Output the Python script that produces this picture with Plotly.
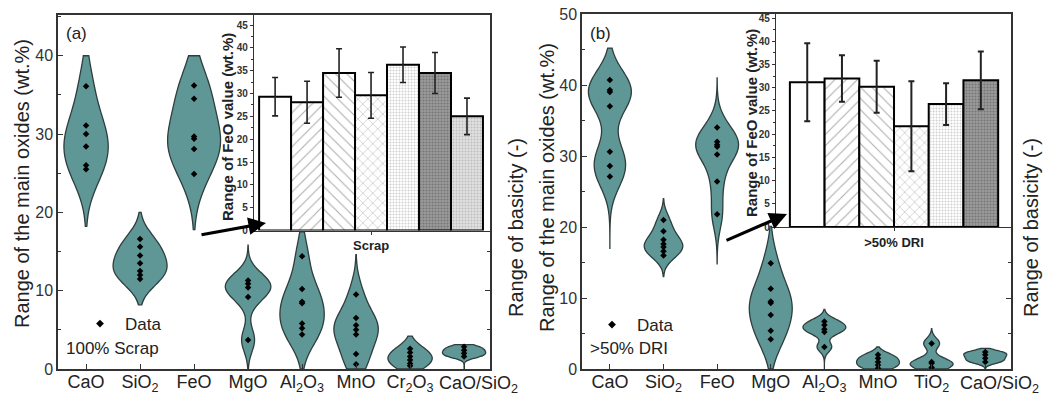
import plotly.graph_objects as go

W, H = 1043, 396

# ---------------- data ----------------
cats_a = ["CaO", "SiO2", "FeO", "MgO", "Al2O3", "MnO", "Cr2O3", "CaO/SiO2"]
ticks_a = ["CaO", "SiO<sub>2</sub>", "FeO", "MgO", "Al<sub>2</sub>O<sub>3</sub>", "MnO",
           "Cr<sub>2</sub>O<sub>3</sub>", "CaO/SiO<sub>2</sub>"]
cao_a = [36.1, 31.1, 30.0, 28.4, 26.0, 25.5]
sio2_a = [16.6, 15.6, 14.5, 13.5, 12.5, 12.0, 11.5]
feo_a = [36.2, 34.5, 29.7, 29.4, 28.1, 24.9]
mgo_a = [11.3, 10.9, 10.4, 9.2, 3.7]
al2o3_a = [14.4, 10.2, 8.6, 8.4, 5.8, 5.2, 4.4]
mno_a = [9.5, 6.5, 5.6, 5.0, 4.4, 1.9, 0.6]
cr2o3_a = [2.6, 2.1, 1.6, 1.15, 0.7, 0.4]
basic_a = [2.85, 2.4, 2.0, 1.6]
# KDE span of each violin (min, max)
span_a = [(18.2, 40), (8.2, 20), (17.8, 40), (0, 15.8), (0, 17.5), (0, 14.6), (0, 4.2), (0, 3.1)]
bw_a = [3.2, 1.7, 3.3, 1.5, 2.4, 2.0, 1.0, 0.33]

cats_b = ["CaO", "SiO2", "FeO", "MgO", "Al2O3", "MnO", "TiO2", "CaO/SiO2"]
ticks_b = ["CaO", "SiO<sub>2</sub>", "FeO", "MgO", "Al<sub>2</sub>O<sub>3</sub>", "MnO",
           "TiO<sub>2</sub>", "CaO/SiO<sub>2</sub>"]
cao_b = [40.7, 39.3, 39.0, 37.0, 30.6, 28.6, 27.1]
sio2_b = [21.0, 19.4, 18.2, 17.6, 17.2, 16.6, 16.0]
feo_b = [34.0, 32.0, 31.6, 31.3, 30.2, 26.4, 21.8]
mgo_b = [14.9, 11.3, 9.5, 9.3, 7.6, 5.4, 4.2]
al2o3_b = [6.7, 6.2, 5.6, 5.2, 3.1]
mno_b = [2.0, 1.5, 1.0, 0.56, 0.1]
tio2_b = [3.6, 1.0, 0.8, 0.2]
basic_b = [2.4, 2.0, 1.5, 1.0]
span_b = [(17, 45.2), (13, 24), (14.8, 41), (0, 20.1), (0, 8.4), (0, 3.1), (0, 5.7), (0, 2.9)]
bw_b = [2.6, 1.2, 2.2, 2.7, 0.7, 0.55, 0.75, 0.35]

# inset bars: FeO value ranges
feo_scrap = [29.3, 28.1, 34.5, 29.6, 36.3, 34.5, 25.0]
feo_scrap_err = [4.2, 4.6, 5.3, 5.0, 3.9, 4.5, 4.0]
feo_dri = [31.2, 32.0, 30.2, 21.7, 26.5, 31.6]
feo_dri_err = [8.4, 5.0, 5.6, 9.7, 4.5, 6.2]

values_a = [cao_a, sio2_a, feo_a, mgo_a, al2o3_a, mno_a, cr2o3_a, basic_a]
values_b = [cao_b, sio2_b, feo_b, mgo_b, al2o3_b, mno_b, tio2_b, basic_b]

# ---------------- style ----------------
FONT = "Arial, Liberation Sans, sans-serif"
FILL = "#5f9696"
EDGE = "#2e3e3e"
AX = "#333333"

def px(x):
    return x / W

def py(y):
    return 1 - y / H

fig = go.Figure()

def add_violins(vals, spans, bws, xa, ya, widths):
    for i, v in enumerate(vals):
        fig.add_trace(go.Violin(
            y=v, x0=i, xaxis=xa, yaxis=ya,
            spanmode="manual", span=list(spans[i]), bandwidth=bws[i],
            width=widths[i], scalemode="width",
            fillcolor=FILL, line=dict(color=EDGE, width=1.3),
            opacity=1, points="all", pointpos=0, jitter=0,
            marker=dict(color="black", symbol="diamond", size=5, line=dict(width=0)),
            box_visible=False, meanline_visible=False, showlegend=False,
            hoverinfo="y"))

add_violins(values_a, span_a, bw_a, "x", "y", [0.82, 1.0, 0.98, 0.84, 0.82, 0.82, 0.82, 0.8])
add_violins(values_b, span_b, bw_b, "x2", "y2", [0.8, 0.72, 0.8, 0.8, 0.8, 0.8, 0.8, 0.8])

# legend entries
fig.add_trace(go.Scatter(x=[None], y=[None], mode="markers", name="Data",
                         marker=dict(color="black", symbol="diamond", size=6),
                         xaxis="x", yaxis="y", legend="legend"))
fig.add_trace(go.Scatter(x=[None], y=[None], mode="markers", name="Data",
                         marker=dict(color="black", symbol="diamond", size=6),
                         xaxis="x2", yaxis="y2", legend="legend2"))

# inset bars
pat_shape = ["", "/", "\\", "x", ".", ".", "."]
pat_fg = ["black", "#5c5c5c", "#5c5c5c", "#5c5c5c", "#a0a0a0", "#505050", "#9a9a9a"]
pat_bg = ["white", "white", "white", "white", "white", "#9c9c9c", "#e0e0e0"]
pat_size = [8, 8, 8, 7, 3, 3, 3]
pat_sol = [0.1, 0.14, 0.14, 0.14, 0.35, 0.4, 0.35]

n_a = len(feo_scrap)
fig.add_trace(go.Bar(
    x=list(range(n_a)), y=feo_scrap, xaxis="x3", yaxis="y3", width=1.0,
    marker=dict(color="white", line=dict(color="black", width=2),
                pattern=dict(shape=pat_shape[:n_a], fgcolor=pat_fg[:n_a], bgcolor=pat_bg[:n_a],
                             size=pat_size[:n_a], solidity=pat_sol[:n_a], fillmode="overlay")),
    error_y=dict(type="data", array=feo_scrap_err, color="#222", thickness=1.6, width=3),
    showlegend=False))
n_b = len(feo_dri)
fig.add_trace(go.Bar(
    x=list(range(n_b)), y=feo_dri, xaxis="x4", yaxis="y4", width=1.0,
    marker=dict(color="white", line=dict(color="black", width=2),
                pattern=dict(shape=pat_shape[:n_b], fgcolor=pat_fg[:n_b], bgcolor=pat_bg[:n_b],
                             size=pat_size[:n_b], solidity=pat_sol[:n_b], fillmode="overlay")),
    error_y=dict(type="data", array=feo_dri_err, color="#222", thickness=2, width=3),
    showlegend=False))

TICKFONT = dict(family=FONT, size=18, color="#222")
main_x = dict(range=[-0.52, 7.48], tickmode="array", tickvals=list(range(8)), tickangle=0,
              automargin=False, ticklabelstandoff=-4,
              ticks="inside", ticklen=5, tickcolor=AX, showline=True, linecolor=AX,
              linewidth=1.5, mirror=True, showgrid=False, zeroline=False,
              tickfont=TICKFONT)
main_y = dict(ticks="inside", ticklen=5, tickcolor=AX, showline=True, linecolor=AX,
              linewidth=1.5, mirror="ticks", showgrid=False, zeroline=False, dtick=10,
              automargin=False,
              minor=dict(dtick=5, ticks="inside", ticklen=3, tickcolor=AX),
              tickfont=dict(family=FONT, size=16, color="#333"))
ins_y = dict(ticks="outside", ticklen=3, tickcolor=AX, showline=True, linecolor=AX,
             linewidth=1.2, showgrid=False, zeroline=False, dtick=5, automargin=False,
             minor=dict(dtick=2.5, ticks="outside", ticklen=2, tickcolor=AX),
             tickfont=dict(family=FONT, size=10, color="#333", weight="bold"))
ins_x = dict(showline=True, linecolor=AX, linewidth=1.2, mirror=True, showgrid=False,
             zeroline=False, ticks="outside", ticklen=3, tickcolor=AX, automargin=False,
             tickangle=0,
             tickfont=dict(family=FONT, size=13, color="#222", weight="bold"))

fig.update_layout(
    width=W, height=H, margin=dict(l=0, r=0, t=0, b=0),
    paper_bgcolor="white", plot_bgcolor="white", violinmode="overlay",
    font=dict(family=FONT),
    # last category label is drawn separately (shifted right, as in the reference)
    xaxis=dict(domain=[px(58), px(490)], ticktext=ticks_a[:7] + [""], anchor="y", **main_x),
    yaxis=dict(domain=[py(369), py(15)], range=[0, 45.2], anchor="x", **main_y),
    xaxis2=dict(domain=[px(582), px(1011)], ticktext=ticks_b[:7] + [""], anchor="y2", **main_x),
    yaxis2=dict(domain=[py(369), py(14)], range=[0, 50], anchor="x2", **main_y),
    xaxis3=dict(domain=[px(254), px(490)], range=[-0.66, 6.72], anchor="y3",
                tickmode="array", tickvals=[(n_a - 1) / 2], ticktext=["Scrap"], **ins_x),
    yaxis3=dict(domain=[py(230.5), py(15)], range=[0, 47.2], anchor="x3", **ins_y),
    xaxis4=dict(domain=[px(776), px(1011)], range=[-0.9, 5.87], anchor="y4",
                tickmode="array", tickvals=[(n_b - 1) / 2], ticktext=[">50% DRI"], **ins_x),
    yaxis4=dict(domain=[py(227), py(14)], range=[0, 45.9], anchor="x4", **ins_y),
    legend=dict(x=px(75), y=py(324), xanchor="left", yanchor="middle", itemwidth=40,
                bgcolor="rgba(0,0,0,0)", font=dict(family=FONT, size=17, color="#222")),
    legend2=dict(x=px(587), y=py(325), xanchor="left", yanchor="middle", itemwidth=40,
                 bgcolor="rgba(0,0,0,0)", font=dict(family=FONT, size=17, color="#222")),
)

ann = []
def text(x, y, s, size=17, angle=0, bold=False, xanchor="center"):
    ann.append(dict(x=px(x), y=py(y), xref="paper", yref="paper", text=s, showarrow=False,
                    textangle=angle, xanchor=xanchor, yanchor="middle",
                    font=dict(family=FONT, size=size, color="#222",
                              weight="bold" if bold else "normal")))

# last category tick labels (tick mark stays at the category, label shifted right)
for xa, lab in [("x", ticks_a[7]), ("x2", ticks_b[7])]:
    ann.append(dict(x=7, y=py(369), xref=xa, yref="paper", text=lab, showarrow=False,
                    xanchor="center", yanchor="top", xshift=14, yshift=-2,
                    font=TICKFONT))

text(22, 184, "Range of the main oxides (wt.%)", 20, -90)
text(547, 188, "Range of the main oxides (wt.%)", 20, -90)
text(516, 228, "Range of basicity (-)", 20, -90)
text(1031, 228, "Range of basicity (-)", 20, -90)
text(227, 127, "Range of FeO value (wt.%)", 15, -90, bold=True)
text(752, 123, "Range of FeO value (wt.%)", 15, -90, bold=True)
text(64, 33, "(a)", 17, xanchor="left")
text(588, 33, "(b)", 17, xanchor="left")
text(64, 348, "100% Scrap", 17, xanchor="left")
text(588, 348, ">50% DRI", 17, xanchor="left")

# arrows pointing to insets
for hx, hy, tx, ty in [(266, 223, 200, 235), (787, 214, 725, 241)]:
    ann.append(dict(x=px(hx), y=py(hy), xref="paper", yref="paper", ax=tx - hx, ay=ty - hy,
                    showarrow=True, arrowhead=2, arrowsize=1.1, arrowwidth=3.2,
                    arrowcolor="black", text=""))

fig.update_layout(annotations=ann)
fig.write_html("out.html")
